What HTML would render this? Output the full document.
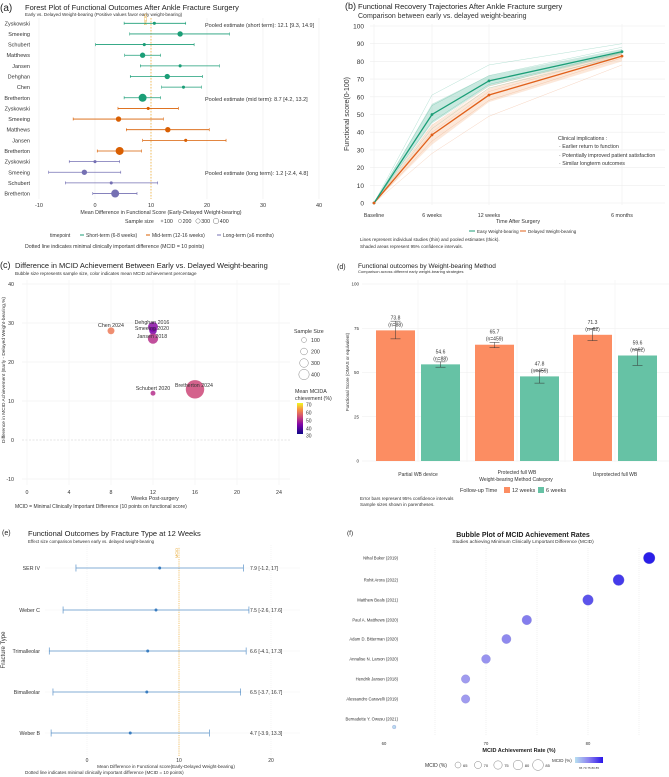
<!DOCTYPE html>
<html><head><meta charset="utf-8"><style>
html,body{margin:0;padding:0;background:#fff;}
svg{display:block;font-family:"Liberation Sans",sans-serif;}
</style></head><body>
<svg id="fig" width="669" height="777" viewBox="0 0 669 777" xmlns="http://www.w3.org/2000/svg">
<defs>
<linearGradient id="plasma" x1="0" y1="1" x2="0" y2="0"><stop offset="0" stop-color="#0d0887"/><stop offset="0.3" stop-color="#7e03a8"/><stop offset="0.55" stop-color="#cc4778"/><stop offset="0.8" stop-color="#f89540"/><stop offset="1" stop-color="#f0f921"/></linearGradient>
<linearGradient id="blues" x1="0" y1="0" x2="1" y2="0"><stop offset="0" stop-color="#b8e0f0"/><stop offset="0.5" stop-color="#8a80f0"/><stop offset="1" stop-color="#2a14e8"/></linearGradient>
</defs>
</svg>
<script>
const NS="http://www.w3.org/2000/svg";
const svg=document.getElementById('fig');
// ---------- data (a)
const aStudies=["Zyskowski","Smeeing","Schubert","Matthews","Jansen","Dehghan","Chen","Bretherton","Zyskowski","Smeeing","Matthews","Jansen","Bretherton","Zyskowski","Smeeing","Schubert","Bretherton"];
const aEst=[10.6,15.2,8.8,8.5,15.2,12.9,15.8,8.5,9.5,4.2,13,16.2,4.4,0,-1.9,2.9,3.6];
const aLo=[5.2,6.2,0.1,5.3,8.1,6.3,11.9,5.2,4.1,-3.9,5.6,8.5,0.4,-4.6,-8.3,-5.3,-0.4];
const aHi=[16.2,24,17.7,11.7,22.2,19.2,19,11.7,14.9,12.2,20.4,23.4,8.3,4.4,4.6,11.2,7.5];
const aN=[60,180,60,180,60,180,60,400,60,180,180,60,400,60,180,60,400];
const aPhase=[0,0,0,0,0,0,0,0,1,1,1,1,1,2,2,2,2];
const aTicks=[-10,0,10,20,30,40];
// (b)
const bTimes=["Baseline","6 weeks","12 weeks","6 months"];
const bEarly=[0,50,69,85.5];
const bDelayed=[0,38.5,61,83];
const bEarlyLo=[0,45,66,84], bEarlyHi=[0,56,72,87];
const bDelLo=[0,33,57,80], bDelHi=[0,44,65,85];
const bEarlyStudies=[[0,61,78,90],[0,55,72,88],[0,46,67,85],[0,42,65,83]];
const bDelStudies=[[0,44,66,85],[0,35,58,82],[0,28,49,78],[0,40,63,84]];
const bTicks=[0,10,20,30,40,50,60,70,80,90,100];
// (c)
const cNames=["Chen 2024","Dehghan 2016","Smeeing 2020","Jansen 2018","Schubert 2020","Bretherton 2024"];
const cWeeks=[8,12,12,12,12,16];
const cDiff=[28,29,28,26,12,13];
const cSize=[60,120,70,130,30,420];
const cColor=["#ec7a58","#8a0ea5","#7b02a8","#b6308b","#b52f8c","#cc4778"];
const cXTicks=[0,4,8,12,16,20,24];
const cYTicks=[-10,0,10,20,30,40];
// (d)
const dCats=["Partial WB device","Protected full WB","Unprotected full WB"];
const d12=[73.8,65.7,71.3], d12Lo=[69,64,68], d12Hi=[79,67,75], d12N=[88,459,62];
const d6=[54.6,47.8,59.6], d6Lo=[53,44,54], d6Hi=[56,51,63], d6N=[88,459,62];
const dTicks=[0,25,50,75,100];
// (e)
const eTypes=["SER IV","Weber C","Trimalleolar","Bimalleolar","Weber B"];
const eEst=[7.9,7.5,6.6,6.5,4.7];
const eLo=[-1.2,-2.6,-4.1,-3.7,-3.9];
const eHi=[17,17.6,17.3,16.7,13.3];
const eTicks=[0,10,20];
// (f)
const fNames=["Nihal Buker (2019)","Rohit Arora (2022)","Matthew Beals (2021)","Paul A. Matthews (2020)","Adam D. Bitterman (2020)","Annalise N. Larson (2020)","Hendrik Jansen (2018)","Alessandro Caravelli (2019)","Bernadette Y. Owusu (2021)"];
const fRate=[86,83,80,74,72,70,68,68,61];
const fTicks=[60,70,80];

function mk(tag,attrs,name,parent){
  const el=document.createElementNS(NS,tag);
  for(const k in attrs) el.setAttribute(k,attrs[k]);
  
  
  (parent||svg).appendChild(el);
  return el;
}
function tx(x,y,s,size,name,o){
  o=o||{};
  const a={x:x,y:y,'font-size':size,fill:o.fill||'#333'};
  if(o.anchor)a['text-anchor']=o.anchor;
  if(o.weight)a['font-weight']=o.weight;
  if(o.rot)a.transform='rotate('+o.rot+' '+x+' '+y+')';
  const t=mk('text',a,name);
  t.textContent=s;
  return t;
}
function ln(x1,y1,x2,y2,c,w,name,dash){
  const a={x1:x1,y1:y1,x2:x2,y2:y2,stroke:c,'stroke-width':w};
  if(dash)a['stroke-dasharray']=dash;
  return mk('line',a,name);
}
function lerp(a,b,t){return a+(b-a)*t;}

// ================= (a)
const ax=v=>95+v*5.6, ay=i=>23.3+i*10.64;
tx(0,11,"(a)",10,"panel-a-label",{fill:'#222'});
tx(25,10,"Forest Plot of Functional Outcomes After Ankle Fracture Surgery",7.5,"panel-a-title",{fill:'#222'});
tx(25,16,"Early vs. Delayed Weight-bearing (Positive values favor early weight-bearing)",4.6,"panel-a-subtitle");
aTicks.forEach(v=>{ln(ax(v),18,ax(v),199,'#ececec',0.6,'a-grid-x');tx(ax(v),207,String(v),5.5,'a-x-tick',{anchor:'middle'});});
ln(ax(10),18,ax(10),199,'#f2b13a',0.8,'a-mcid-line','1.5,1.5');
tx(147,25,"MCID",4.5,"a-mcid-label",{fill:'#e6a52a',rot:-90});
const aCol=['#1b9e77','#d95f02','#7570b3'];
aStudies.forEach((s,i)=>{
  const y=ay(i),c=aCol[aPhase[i]];
  tx(30,y+2,s,5.5,'a-study-label',{anchor:'end'});
  ln(ax(aLo[i]),y,ax(aHi[i]),y,c,0.8,'a-ci-bar');
  ln(ax(aLo[i]),y-1.5,ax(aLo[i]),y+1.5,c,0.6,'a-ci-cap');
  ln(ax(aHi[i]),y-1.5,ax(aHi[i]),y+1.5,c,0.6,'a-ci-cap');
  mk('circle',{cx:ax(aEst[i]),cy:y,r:Math.sqrt(aN[i])*0.2,fill:c},'a-estimate-point');
});
tx(205,27,"Pooled estimate (short term): 12.1 [9.3, 14.9]",5.5,"a-pooled-short");
tx(205,101,"Pooled estimate (mid term): 8.7 [4.2, 13.2]",5.5,"a-pooled-mid");
tx(205,175,"Pooled estimate (long term): 1.2 [-2.4, 4.8]",5.5,"a-pooled-long");
tx(161,214,"Mean Difference in Functional Score (Early-Delayed Weight-bearing)",5.3,"a-x-axis-title",{anchor:'middle'});
tx(125,223,"Sample size",5.3,"a-size-legend-title");
[100,200,300,400].forEach((v,i)=>{mk('circle',{cx:162+i*18,cy:221,r:1+i*0.6,fill:'none',stroke:'#555','stroke-width':0.4},'a-size-legend-key');tx(164+i*18+i*0.6,223,String(v),5.3,'a-size-legend-label');});
tx(50,237,"timepoint",5,"a-legend-title");
[["Short-term (6-8 weeks)",80],["Mid-term (12-16 weeks)",146],["Long-term (≥6 months)",217]].forEach((e,i)=>{ln(e[1],235,e[1]+4,235,aCol[i],1,'a-legend-key');tx(e[1]+6,237,e[0],5,'a-legend-entry');});
tx(25,248,"Dotted line indicates minimal clinically important difference (MCID = 10 points)",5.2,"a-note");

// ================= (b)
const bx=[374,432,489,622], by=v=>203-v*1.77;
tx(345,9,"(b)",9,"panel-b-label",{fill:'#222'});
tx(358,9,"Functional Recovery Trajectories After Ankle Fracture surgery",7.5,"panel-b-title",{fill:'#222'});
tx(358,18,"Comparison between early vs. delayed weight-bearing",7,"panel-b-subtitle");
bTicks.forEach(v=>{ln(370,by(v),665,by(v),'#eeeeee',0.6,'b-grid-y');tx(364,by(v)+2.5,String(v),6.5,'b-y-tick',{anchor:'end'});});
bx.forEach((x,i)=>{ln(x,24,x,205,'#eeeeee',0.6,'b-grid-x');tx(x,217,bTimes[i],5.3,'b-x-tick',{anchor:'middle'});});
function band(lo,hi,c,name){let d='M'+bx.map((x,i)=>x+','+by(hi[i])).join('L')+'L'+bx.slice().reverse().map((x,j)=>x+','+by(lo[3-j])).join('L')+'Z';mk('path',{d:d,fill:c,'fill-opacity':0.25},name);}
function pl(vals,c,w,op,name){mk('polyline',{points:bx.map((x,i)=>x+','+by(vals[i])).join(' '),fill:'none',stroke:c,'stroke-width':w,'stroke-opacity':op},name);}
bDelStudies.forEach(s=>pl(s,'#e8844a',0.5,0.35,'b-delayed-study-line'));
bEarlyStudies.forEach(s=>pl(s,'#2aa884',0.5,0.35,'b-early-study-line'));
band(bDelLo,bDelHi,'#f5a36a','b-delayed-ci-band');
band(bEarlyLo,bEarlyHi,'#2aa884','b-early-ci-band');
pl(bDelayed,'#e0601a',1.3,1,'b-delayed-pooled-line');
pl(bEarly,'#1b9e77',1.3,1,'b-early-pooled-line');
bx.forEach((x,i)=>{mk('circle',{cx:x,cy:by(bEarly[i]),r:1.4,fill:'#1b9e77'},'b-early-point');mk('circle',{cx:x,cy:by(bDelayed[i]),r:1.4,fill:'#e0601a'},'b-delayed-point');});
tx(349,114,"Functional score(0-100)",7,"b-y-axis-title",{anchor:'middle',rot:-90});
tx(518,223,"Time After Surgery",5.3,"b-x-axis-title",{anchor:'middle'});
tx(558,140,"Clinical implications :",5.3,"b-annotation-title");
tx(559,148,"· Earlier return to function",5.3,"b-annotation-line");
tx(559,157,"· Potentially improved patient satisfaction",5.3,"b-annotation-line");
tx(559,165,"· Similar longterm outcomes",5.3,"b-annotation-line");
ln(469,231,475,231,'#1b9e77',1,'b-legend-key');tx(477,233,"Easy Weight-bearing",4.5,"b-legend-entry");
ln(520,231,526,231,'#e0601a',1,'b-legend-key');tx(528,233,"Delayed Weight-bearing",4.5,"b-legend-entry");
tx(360,241,"Lines represent individual studies (thin) and pooled estimates (thick).",4.6,"b-note");
tx(360,248,"Shaded areas represent 95% confidence intervals.",4.6,"b-note");

// ================= (c)
const cx=v=>27+v*10.5, cy=v=>440-v*3.9;
tx(0,268,"(c)",9,"panel-c-label",{fill:'#222'});
tx(15,268,"Difference in MCID Achievement Between Early vs. Delayed Weight-bearing",7.5,"panel-c-title",{fill:'#222'});
tx(15,275,"Bubble size represents sample size, color indicates mean MCID achievement percentage",4.6,"panel-c-subtitle");
cYTicks.forEach(v=>{ln(22,cy(v),290,cy(v),v===0?'#cccccc':'#eeeeee',0.6,'c-grid-y',v===0?'2,1.5':null);tx(14,cy(v)+2,String(v),5.3,'c-y-tick',{anchor:'end'});});
cXTicks.forEach(v=>{ln(cx(v),280,cx(v),485,'#f2f2f2',0.6,'c-grid-x');tx(cx(v),494,String(v),5.3,'c-x-tick',{anchor:'middle'});});
cNames.forEach((n,i)=>{mk('circle',{cx:cx(cWeeks[i]),cy:cy(cDiff[i]),r:Math.sqrt(cSize[i])*0.45,fill:cColor[i],'fill-opacity':0.85},'c-bubble');});
const cLab=[[111,327],[152,324],[152,330],[152,338],[153,390],[194,387]];
cNames.forEach((n,i)=>tx(cLab[i][0],cLab[i][1],n,5.3,'c-bubble-label',{anchor:'middle'}));
tx(5,370,"Difference in MCID Achievement (Early - Delayed Weight-bearing,%)",4.8,"c-y-axis-title",{anchor:'middle',rot:-90});
tx(155,500,"Weeks Post-surgery",5.3,"c-x-axis-title",{anchor:'middle'});
tx(15,508,"MCID = Minimal Clinically Important Difference (10 points on functional score)",5,"c-note");
tx(294,333,"Sample Size",5.3,"c-size-legend-title");
[100,200,300,400].forEach((v,i)=>{const yy=340+i*11.5;mk('circle',{cx:304,cy:yy,r:2.5+i*0.9,fill:'none',stroke:'#888','stroke-width':0.5},'c-size-legend-key');tx(311,yy+2,String(v),5.3,'c-size-legend-label');});
tx(295,393,"Mean MCIDA",5.3,"c-color-legend-title");tx(295,400,"chievement (%)",5.3,"c-color-legend-title");
mk('rect',{x:297,y:403,width:6,height:31,fill:'url(#plasma)'},'c-colorbar');
[[70,405],[60,413],[50,421],[40,429],[30,436]].forEach(p=>tx(306,p[1]+1.5,String(p[0]),5,'c-colorbar-label'));

// ================= (d)
const dy=v=>461-v*1.77, dC=[418,517,615];
tx(337,269,"(d)",7,"panel-d-label",{fill:'#222'});
tx(358,268,"Functional outcomes by Weight-bearing Method",6.5,"panel-d-title",{fill:'#222'});
tx(358,273,"Comparison across different early weight-bearing strategies",4,"panel-d-subtitle");
dTicks.forEach(v=>{ln(362,dy(v),669,dy(v),'#eeeeee',0.6,'d-grid-y');tx(359,dy(v)+1.5,String(v),4.5,'d-y-tick',{anchor:'end'});});
dC.forEach(x=>ln(x,280,x,462,'#f2f2f2',0.6,'d-grid-x'));
[467,565].forEach(x=>ln(x,280,x,462,'#f2f2f2',0.6,'d-grid-x-minor'));
dCats.forEach((c,i)=>{
  const x1=dC[i]-42,x2=dC[i]+3;
  mk('rect',{x:x1,y:dy(d12[i]),width:39,height:dy(0)-dy(d12[i]),fill:'#fc8d62'},'d-bar-12-weeks');
  mk('rect',{x:x2,y:dy(d6[i]),width:39,height:dy(0)-dy(d6[i]),fill:'#66c2a5'},'d-bar-6-weeks');
  [[x1+19.5,d12Lo[i],d12Hi[i],d12[i],d12N[i]],[x2+19.5,d6Lo[i],d6Hi[i],d6[i],d6N[i]]].forEach(b=>{
    ln(b[0],dy(b[1]),b[0],dy(b[2]),'#333',0.5,'d-error-bar');
    ln(b[0]-5,dy(b[1]),b[0]+5,dy(b[1]),'#333',0.5,'d-error-cap');
    ln(b[0]-5,dy(b[2]),b[0]+5,dy(b[2]),'#333',0.5,'d-error-cap');
    tx(b[0],dy(b[3])-11,b[3].toFixed(1),5,'d-value-label',{anchor:'middle'});
    tx(b[0],dy(b[3])-4,'(n='+b[4]+')',5,'d-n-label',{anchor:'middle'});
  });
});
tx(418,476,"Partial WB device",5,"d-x-tick",{anchor:'middle'});
tx(517,474,"Protected full WB",5,"d-x-tick",{anchor:'middle'});
tx(615,476,"Unprotected full WB",5,"d-x-tick",{anchor:'middle'});
tx(516,481,"Weight-bearing Method Category",5,"d-x-axis-title",{anchor:'middle'});
tx(349,372,"Functional Score (OMAS or equivalent)",4.5,"d-y-axis-title",{anchor:'middle',rot:-90});
tx(460,492,"Follow-up Time",5.5,"d-legend-title");
mk('rect',{x:504,y:487,width:6,height:6,fill:'#fc8d62'},'d-legend-key');tx(512,492,"12 weeks",5.5,"d-legend-entry");
mk('rect',{x:538,y:487,width:6,height:6,fill:'#66c2a5'},'d-legend-key');tx(546,492,"6 weeks",5.5,"d-legend-entry");
tx(360,500,"Error bars represent 95% confidence intervals",4.6,"d-note");
tx(360,506,"Sample sizes shown in parentheses.",4.6,"d-note");

// ================= (e)
const ex=v=>87+v*9.2, eY=[568,610,651,692,733];
tx(2,535,"(e)",7,"panel-e-label",{fill:'#222'});
tx(28,536,"Functional Outcomes by Fracture Type at 12 Weeks",7.5,"panel-e-title",{fill:'#222'});
tx(28,543,"Effect size comparison between early vs. delayed weight-bearing",4.4,"panel-e-subtitle");
eTicks.forEach(v=>{ln(ex(v),545,ex(v),756,'#eeeeee',0.6,'e-grid-x','1,1');tx(ex(v),762,String(v),5,'e-x-tick',{anchor:'middle'});});
ln(ex(10),548,ex(10),756,'#f2b13a',0.7,'e-mcid-line','1.2,1');
tx(178,553,"MCID",4,"e-mcid-label",{fill:'#e6a52a',rot:-90,anchor:'middle'});
eTypes.forEach((t,i)=>{
  const y=eY[i];
  ln(45,y,300,y,'#f4f4f4',0.6,'e-grid-y');
  tx(40,y+2,t,5.3,'e-type-label',{anchor:'end'});
  ln(ex(eLo[i]),y,ex(eHi[i]),y,'#5b93c9',0.8,'e-ci-bar');
  ln(ex(eLo[i]),y-3.5,ex(eLo[i]),y+3.5,'#5b93c9',0.7,'e-ci-cap');
  ln(ex(eHi[i]),y-3.5,ex(eHi[i]),y+3.5,'#5b93c9',0.7,'e-ci-cap');
  mk('circle',{cx:ex(eEst[i]),cy:y,r:1.5,fill:'#3a7dc0'},'e-estimate-point');
  tx(250,y+2,eEst[i]+' ['+eLo[i]+', '+eHi[i]+']',5,'e-value-label');
});
tx(5,650,"Fracture Type",6,"e-y-axis-title",{anchor:'middle',rot:-90});
tx(166,768,"Mean Difference in Functional score(Early-Delayed Weight-bearing)",4.6,"e-x-axis-title",{anchor:'middle'});
tx(25,774,"Dotted line indicates minimal clinically important difference (MCID = 10 points)",4.6,"e-note");

// ================= (f)
const fx=v=>384+(v-60)*10.2, fY=[558,580,600,620,639,659,679,699,719];
tx(347,535,"(f)",6.5,"panel-f-label",{fill:'#222'});
tx(523,537,"Bubble Plot of MCID Achievement Rates",7,"panel-f-title",{anchor:'middle',weight:'bold',fill:'#222'});
tx(523,543,"Studies achieving Minimum Clinically Lmportant Difference (MCID)",4.8,"panel-f-subtitle",{anchor:'middle'});
[65,70,75,80,85].forEach(v=>ln(fx(v),548,fx(v),735,'#e6e6e6',0.6,'f-grid-x','1,1'));
fTicks.forEach(v=>tx(fx(v),745,String(v),4.2,'f-x-tick',{anchor:'middle'}));
fNames.forEach((n,i)=>{
  tx(398,fY[i]+1.5,n,4.2,'f-study-label',{anchor:'end'});
  const t=Math.max(0,(fRate[i]-60)/26);
  const t2=Math.pow(t,1.8);
  const col='rgb('+Math.round(lerp(176,42,t2))+','+Math.round(lerp(172,30,t2))+','+Math.round(lerp(240,232,t2))+')';
  const r=fRate[i]<65?1.8:lerp(4,5.8,(fRate[i]-65)/21);
  mk('circle',{cx:fx(fRate[i]),cy:i===8?727:fY[i],r:r,fill:fRate[i]<65?'#b8dcee':col,stroke:'#8080d0','stroke-width':0.3},'f-bubble');
});
tx(519,752,"MCID Achievement Rate (%)",5.5,"f-x-axis-title",{anchor:'middle',weight:'bold',fill:'#222'});
tx(425,767,"MCID (%)",5,"f-size-legend-title");
[65,70,75,80,85].forEach((v,i)=>{const x=458+i*20;mk('circle',{cx:x,cy:765,r:3+i*0.6,fill:'none',stroke:'#666','stroke-width':0.4},'f-size-legend-key');tx(x+5+i*0.6,767,String(v),4,'f-size-legend-label');});
tx(552,762,"MCID (%)",4.5,"f-color-legend-title");
mk('rect',{x:575,y:757,width:28,height:6,fill:'url(#blues)'},'f-colorbar');
tx(589,769,"65 70 75 80 85",3,"f-colorbar-labels",{anchor:'middle'});
</script>
</body></html>
